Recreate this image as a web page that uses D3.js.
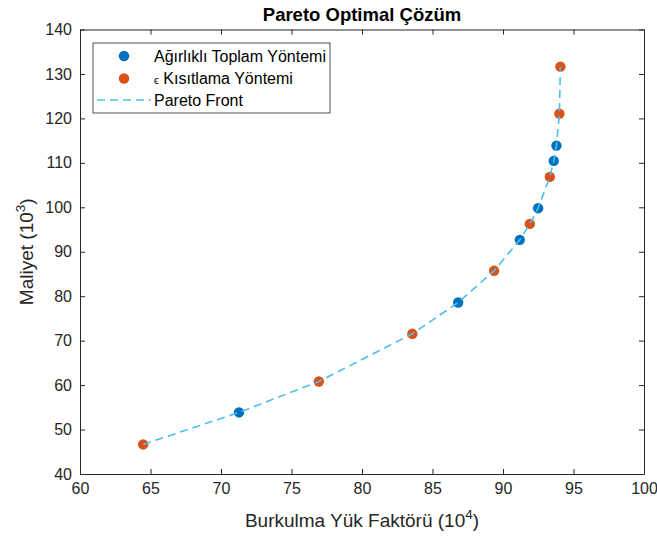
<!DOCTYPE html>
<html>
<head>
<meta charset="utf-8">
<script src="https://cdn.jsdelivr.net/npm/d3@7/dist/d3.min.js"></script>
<style>
  body { margin: 0; background: #fff; }
  svg { display: block; font-family: "Liberation Sans", Arial, sans-serif; }
  .tick text { fill: #262626; font-size: 16px; }
  .tick line, .domain { stroke: #262626; }
</style>
</head>
<body>
<script>
// weighted sum method results (x: buckling load factor 1e4, y: cost 1e3)
const weightedX = [71.28, 86.82, 91.19, 92.49, 93.60, 93.79];
const weightedY = [53.85, 78.58, 92.68, 99.80, 110.44, 113.88];

// epsilon constraint method results
const epsilonX = [64.48, 76.94, 83.57, 89.37, 91.90, 93.32, 94.00, 94.07];
const epsilonY = [46.65, 60.82, 71.54, 85.71, 96.27, 106.84, 121.07, 131.64];

const xTicks = [60, 65, 70, 75, 80, 85, 90, 95, 100];
const yTicks = [40, 50, 60, 70, 80, 90, 100, 110, 120, 130, 140];

const W = 657, H = 538;
const margin = {left: 80, right: 13, top: 29.5, bottom: 64};
const blue = '#0072BD', orange = '#D95319', lineColor = '#4DBEEE';

const svg = d3.select('body').append('svg')
  .attr('width', W)
  .attr('height', H);

const x = d3.scaleLinear().domain([60, 100]).range([margin.left, W - margin.right]);
const y = d3.scaleLinear().domain([40, 140]).range([H - margin.bottom, margin.top]);

const weighted = weightedX.map((v, i) => ({x: v, y: weightedY[i]}));
const epsilon = epsilonX.map((v, i) => ({x: v, y: epsilonY[i]}));
const front = weighted.concat(epsilon).sort((a, b) => a.y - b.y);

// axes, ticks inside, box on
const tickLen = 5;
svg.append('g')
  .attr('transform', `translate(0,${y(40)})`)
  .call(d3.axisBottom(x).tickValues(xTicks).tickSizeInner(-tickLen).tickSizeOuter(0).tickPadding(9))
  .call(g => g.selectAll('text').attr('dy', '0.71em'));
svg.append('g')
  .attr('transform', `translate(0,${y(140)})`)
  .call(d3.axisTop(x).tickValues(xTicks).tickSizeInner(-tickLen).tickSizeOuter(0).tickFormat(''));
svg.append('g')
  .attr('transform', `translate(${x(60)},0)`)
  .call(d3.axisLeft(y).tickValues(yTicks).tickSizeInner(-tickLen).tickSizeOuter(0).tickPadding(8));
svg.append('g')
  .attr('transform', `translate(${x(100)},0)`)
  .call(d3.axisRight(y).tickValues(yTicks).tickSizeInner(-tickLen).tickSizeOuter(0).tickFormat(''));

svg.selectAll('.domain').attr('stroke-width', 1);

// markers
svg.append('g').selectAll('circle.w')
  .data(weighted)
  .enter().append('circle')
  .attr('class', 'w')
  .attr('cx', d => x(d.x))
  .attr('cy', d => y(d.y))
  .attr('r', 5.2)
  .attr('fill', blue);

svg.append('g').selectAll('circle.e')
  .data(epsilon)
  .enter().append('circle')
  .attr('class', 'e')
  .attr('cx', d => x(d.x))
  .attr('cy', d => y(d.y))
  .attr('r', 5.2)
  .attr('fill', orange);

// pareto front line on top
svg.append('path')
  .datum(front)
  .attr('fill', 'none')
  .attr('stroke', lineColor)
  .attr('stroke-width', 1.6)
  .attr('stroke-dasharray', '8,5')
  .attr('d', d3.line().x(d => x(d.x)).y(d => y(d.y)));

// title
svg.append('text')
  .attr('x', (x(60) + x(100)) / 2)
  .attr('y', 21)
  .attr('text-anchor', 'middle')
  .attr('font-weight', 'bold')
  .attr('font-size', 18.5)
  .attr('fill', '#000')
  .text('Pareto Optimal Çözüm');

// x label
const xl = svg.append('text')
  .attr('x', (x(60) + x(100)) / 2)
  .attr('y', 527)
  .attr('text-anchor', 'middle')
  .attr('font-size', 19)
  .attr('fill', '#262626');
xl.append('tspan').text('Burkulma Yük Faktörü (10');
xl.append('tspan').attr('dy', -8).attr('font-size', 13.5).text('4');
xl.append('tspan').attr('dy', 8).text(')');

// y label
const yl = svg.append('text')
  .attr('transform', `translate(33,${(y(40) + y(140)) / 2}) rotate(-90)`)
  .attr('text-anchor', 'middle')
  .attr('font-size', 19)
  .attr('fill', '#262626');
yl.append('tspan').text('Maliyet (10');
yl.append('tspan').attr('dy', -8).attr('font-size', 13.5).text('3');
yl.append('tspan').attr('dy', 8).text(')');

// legend
const legend = svg.append('g').attr('transform', 'translate(93,43)');
legend.append('rect')
  .attr('width', 237)
  .attr('height', 70)
  .attr('fill', '#fff')
  .attr('stroke', '#262626')
  .attr('stroke-width', 0.8);

legend.append('circle').attr('cx', 31).attr('cy', 13).attr('r', 5.2).attr('fill', blue);
legend.append('circle').attr('cx', 31).attr('cy', 35.5).attr('r', 5.2).attr('fill', orange);
legend.append('line')
  .attr('x1', 4).attr('x2', 58).attr('y1', 57).attr('y2', 57)
  .attr('stroke', lineColor)
  .attr('stroke-width', 1.6)
  .attr('stroke-dasharray', '8,5');

const legendText = legend.append('g')
  .attr('font-size', 16)
  .attr('fill', '#000');
legendText.append('text').attr('x', 61).attr('y', 19).text('Ağırlıklı Toplam Yöntemi');
const eps = legendText.append('text').attr('x', 61).attr('y', 41);
eps.append('tspan').attr('font-size', 11).text('ϵ');
eps.append('tspan').text(' Kısıtlama Yöntemi');
legendText.append('text').attr('x', 61).attr('y', 63).text('Pareto Front');
</script>
</body>
</html>
